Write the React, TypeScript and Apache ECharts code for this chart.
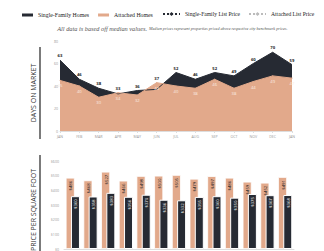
import React, { useEffect, useRef } from "react";
import * as echarts from "echarts";

const months = ["JAN", "FEB", "MAR", "APR", "MAY", "JUN", "JUL", "AUG", "SEP", "OCT", "NOV", "DEC", "JAN"];
const singleDays = [63, 46, 38, 33, 36, 37, 52, 46, 52, 49, 60, 70, 59];
const attachedDays = [45, 40, 30, 34, 32, 43, 40, 38, 46, 38, 44, 49, 47];
const attachedPrice = [486, 468, 527, 466, 498, 500, 505, 479, 497, 486, 459, 452, 491];
const singlePrice = [360, 358, 383, 356, 370, 336, 332, 355, 360, 350, 375, 367, 368];
const singleListPrice: number[] = [];
const attachedListPrice: number[] = [];

const DARK = "#262a33";
const ORANGE = "#e2a98b";
const SERIF = "Liberation Serif";
const SANS = "Open Sans";

// label anchor for single-family labels: sits above whichever area is on top
const singleLabelAnchor = singleDays.map((v, i) => Math.max(v, attachedDays[i]));

export default function App() {
  const ref = useRef<HTMLDivElement>(null);
  useEffect(() => {
    if (!ref.current) return;
    const chart = echarts.init(ref.current, null, { renderer: "svg" });
    chart.setOption({
      animation: false,
      backgroundColor: "#ffffff",
      legend: [
        {
          top: 12,
          left: 22,
          padding: 0,
          itemGap: 9,
          itemWidth: 11,
          itemHeight: 3,
          textStyle: { fontFamily: SERIF, fontSize: 5.8, color: "#222" },
          data: [
            { name: "Single-Family Homes", icon: "rect" },
            { name: "Attached Homes", icon: "rect" },
          ],
        },
        {
          top: 11,
          left: 162,
          padding: 0,
          width: 162,
          itemGap: 8,
          itemWidth: 17,
          itemHeight: 5,
          textStyle: { fontFamily: SERIF, fontSize: 5.6, color: "#222" },
          data: [{ name: "Single-Family List Price" }, { name: "Attached List Price" }],
        },
      ],
      graphic: [
        {
          type: "text",
          x: 147,
          y: 28,
          style: {
            text: "All data is based off median values.",
            align: "right",
            verticalAlign: "middle",
            fill: "#555",
            fontFamily: SERIF,
            fontStyle: "italic",
            fontSize: 6.3,
          },
        },
        {
          type: "text",
          x: 149,
          y: 28,
          style: {
            text: "Median prices represent properties priced above respective city benchmark prices.",
            align: "left",
            verticalAlign: "middle",
            fill: "#555",
            fontFamily: SERIF,
            fontStyle: "italic",
            fontSize: 4.2,
          },
        },
        {
          type: "text",
          x: 33,
          y: 93,
          rotation: Math.PI / 2,
          style: {
            text: "DAYS ON MARKET",
            align: "center",
            verticalAlign: "middle",
            fontFamily: SANS,
            fontSize: 7,
            fill: "#333",
          },
        },
        { type: "line", shape: { x1: 40, y1: 47, x2: 40, y2: 139 }, style: { stroke: "#222", lineWidth: 1.2 } },
        {
          type: "text",
          x: 33,
          y: 210,
          rotation: Math.PI / 2,
          style: {
            text: "PRICE PER SQUARE FOOT",
            align: "center",
            verticalAlign: "middle",
            fontFamily: SANS,
            fontSize: 7,
            fill: "#333",
          },
        },
        { type: "line", shape: { x1: 40, y1: 155, x2: 40, y2: 270 }, style: { stroke: "#222", lineWidth: 1.2 } },
      ],
      grid: [
        { left: 60, right: 32, top: 41, bottom: 120 },
        { left: 64, right: 30, top: 161, bottom: 0 },
      ],
      xAxis: [
        {
          gridIndex: 0,
          type: "category",
          data: months,
          boundaryGap: false,
          axisLine: { lineStyle: { color: "#ddd" } },
          axisTick: { show: true, length: 2, lineStyle: { color: "#ddd" } },
          axisLabel: { fontSize: 3.6, color: "#999", margin: 3, fontFamily: SANS },
        },
        {
          gridIndex: 1,
          type: "category",
          data: months,
          axisLine: { lineStyle: { color: "#ddd" } },
          axisTick: { show: false },
          axisLabel: { show: false },
        },
      ],
      yAxis: [
        {
          gridIndex: 0,
          type: "value",
          min: 0,
          max: 80,
          interval: 20,
          splitLine: { show: false },
          axisLine: { show: false },
          axisLabel: { fontSize: 3.6, color: "#999", margin: 2, fontFamily: SANS },
        },
        {
          gridIndex: 1,
          type: "value",
          min: 0,
          max: 600,
          interval: 100,
          splitLine: { show: false },
          axisLine: { show: false },
          axisLabel: { fontSize: 3.6, color: "#999", margin: 5, fontFamily: SANS, formatter: "${value}" },
        },
      ],
      series: [
        {
          name: "Single-Family Homes",
          type: "line",
          xAxisIndex: 0,
          yAxisIndex: 0,
          data: singleDays,
          symbol: "none",
          itemStyle: { color: DARK },
          lineStyle: { color: DARK, width: 1 },
          areaStyle: { color: DARK, opacity: 1 },
        },
        {
          name: "Attached Homes",
          type: "line",
          xAxisIndex: 0,
          yAxisIndex: 0,
          data: attachedDays,
          symbol: "circle",
          symbolSize: 1,
          itemStyle: { color: ORANGE },
          lineStyle: { color: ORANGE, width: 1 },
          areaStyle: { color: ORANGE, opacity: 1 },
          label: { show: true, position: "bottom", distance: 3, fontSize: 4.2, color: "#fbece3", fontFamily: SANS },
        },
        {
          name: "singleLabels",
          type: "line",
          xAxisIndex: 0,
          yAxisIndex: 0,
          data: singleLabelAnchor,
          symbol: "circle",
          symbolSize: 1,
          silent: true,
          itemStyle: { color: "rgba(0,0,0,0)" },
          lineStyle: { width: 0, opacity: 0 },
          label: {
            show: true,
            position: "top",
            distance: 2,
            fontSize: 4.2,
            fontWeight: "bold",
            color: "#222",
            fontFamily: SANS,
            formatter: (p: any) => String(singleDays[p.dataIndex]),
          },
        },
        {
          name: "Attached Homes",
          type: "bar",
          xAxisIndex: 1,
          yAxisIndex: 1,
          data: attachedPrice,
          barWidth: 9,
          barGap: "-42%",
          itemStyle: { color: ORANGE, borderColor: "#fff", borderWidth: 0.8 },
          label: {
            show: true,
            position: "insideTop",
            distance: 3,
            rotate: 90,
            align: "right",
            verticalAlign: "middle",
            fontSize: 4.3,
            color: "#222",
            fontFamily: SANS,
            formatter: "${c}",
          },
        },
        {
          name: "Single-Family Homes",
          type: "bar",
          xAxisIndex: 1,
          yAxisIndex: 1,
          data: singlePrice,
          barWidth: 9,
          barGap: "-42%",
          itemStyle: { color: DARK, borderColor: "#fff", borderWidth: 1 },
          label: {
            show: true,
            position: "insideTop",
            distance: 3,
            rotate: 90,
            align: "right",
            verticalAlign: "middle",
            fontSize: 4.3,
            color: "#fff",
            fontFamily: SANS,
            formatter: "${c}",
          },
        },
        {
          name: "Single-Family List Price",
          type: "line",
          xAxisIndex: 1,
          yAxisIndex: 1,
          data: singleListPrice,
          symbol: "diamond",
          symbolSize: 5,
          itemStyle: { color: DARK },
          lineStyle: { color: DARK, width: 1.5, type: "dotted" },
        },
        {
          name: "Attached List Price",
          type: "line",
          xAxisIndex: 1,
          yAxisIndex: 1,
          data: attachedListPrice,
          symbol: "diamond",
          symbolSize: 5,
          itemStyle: { color: "#bbb" },
          lineStyle: { color: "#bbb", width: 1.5, type: "dotted" },
        },
      ],
    });
    return () => chart.dispose();
  }, []);
  return <div ref={ref} style={{ position: "fixed", left: 0, top: 0, width: 324, height: 251 }} />;
}
